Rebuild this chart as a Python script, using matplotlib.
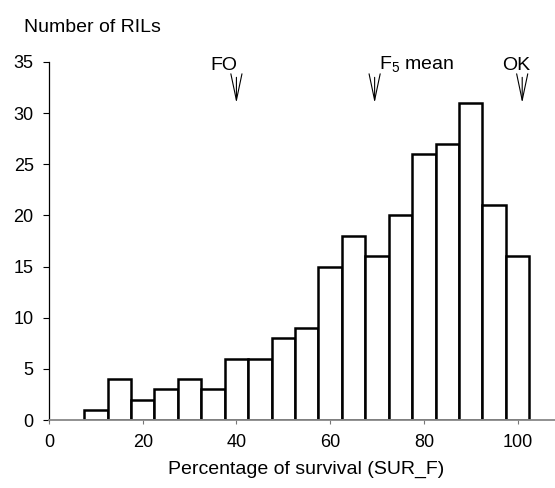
import matplotlib
matplotlib.use('Agg')
from matplotlib import pyplot as plt

# Histograma de supervivencia de las RILs
centros = [10, 15, 20, 25, 30, 35, 40, 45, 50, 55, 60, 65, 70, 75, 80, 85, 90, 95, 100]
conteos = [1, 4, 2, 3, 4, 3, 6, 6, 8, 9, 15, 18, 16, 20, 26, 27, 31, 21, 16]
xticks = [0, 20, 40, 60, 80, 100]
yticks = [0, 5, 10, 15, 20, 25, 30, 35]

# flechas: posicion x de FO, media F5 y OK
flechas = [40, 69.5, 101]

plt.rcParams['font.family'] = ['Liberation Sans', 'DejaVu Sans']
plt.rcParams['mathtext.fontset'] = 'custom'
plt.rcParams['mathtext.rm'] = 'Liberation Sans'

fig = plt.figure(figsize=(5.55, 4.88), dpi=100)
ax = fig.add_axes([0.0883, 0.139, 0.9117, 0.734])

ax.bar(centros, conteos, width=5, color='white', edgecolor='black', linewidth=1.8)

ax.set_xlim(0, 108)
ax.set_ylim(0, 35)
ax.set_xticks(xticks)
ax.set_yticks(yticks)
ax.tick_params(axis='both', labelsize=13, direction='out')
ax.tick_params(axis='y', length=4, width=0.8, pad=7)
ax.tick_params(axis='x', length=3, width=0.8, color='#777777', pad=7)

ax.spines['top'].set_visible(False)
ax.spines['right'].set_visible(False)
ax.spines['left'].set_linewidth(0.9)
ax.spines['bottom'].set_color('#888888')
ax.spines['bottom'].set_linewidth(1.3)

for x in flechas:
    ax.annotate('', xy=(x, 31.0), xytext=(x, 33.5),
                arrowprops=dict(arrowstyle='->,head_length=1.9,head_width=0.4',
                                color='black', linewidth=0.8, shrinkA=0, shrinkB=0),
                annotation_clip=False)

ax.text(40.2, 34.7, 'FO', ha='right', va='center', fontsize=14)
ax.text(70.5, 34.7, r'F$_5$ mean', ha='left', va='center', fontsize=14)
ax.text(99.8, 34.7, 'OK', ha='center', va='center', fontsize=14)

fig.text(0.043, 0.943, 'Number of RILs', ha='left', va='center', fontsize=14)
fig.text(0.551, 0.039, 'Percentage of survival (SUR_F)', ha='center', va='center', fontsize=14)

fig.savefig('out.png', dpi=100)
